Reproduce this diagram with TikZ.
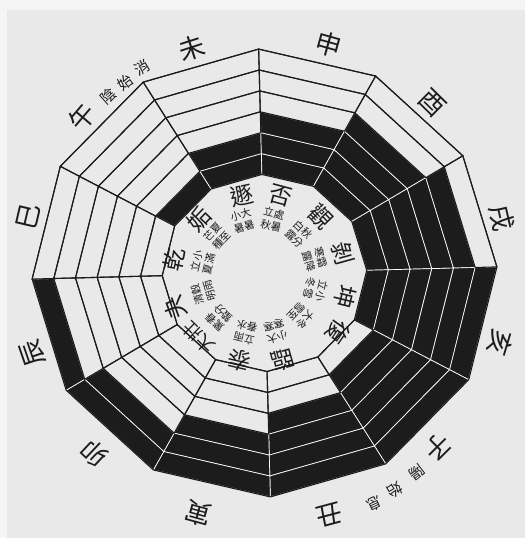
\documentclass[tikz,border=0pt]{standalone}
\usepackage{fontspec}
\newfontfamily\cjk{Noto Sans CJK TC}
\definecolor{bgc}{HTML}{E9E9E9}
\definecolor{bgw}{HTML}{F5F5F5}
\definecolor{ink}{HTML}{1C1C1C}
\begin{document}
\begin{tikzpicture}[x=1pt,y=1pt,
  blackcell/.style={fill=ink, draw=white!85!bgc, line width=0.7pt},
  whitecell/.style={draw=ink, line width=1.1pt},
  rim/.style={draw=ink, line width=1.1pt},
  branch/.style={font=\cjk\fontsize{26}{26}\selectfont, inner sep=0pt, text=ink},
  note/.style={font=\cjk\fontsize{15}{15}\selectfont, inner sep=0pt, text=ink},
  gua/.style={font=\cjk\fontsize{23}{23}\selectfont, inner sep=0pt, text=ink},
  term/.style={font=\cjk\fontsize{10.5}{12.5}\selectfont, inner sep=0pt, text=ink, align=center}]
\useasboundingbox (0,0) rectangle (525,538);
\fill[bgc] (0,0) rectangle (525,538);
\fill[bgw] (0,528) rectangle (525,538);
\fill[bgw] (0,0) rectangle (7,528);
% ---- bands ----
\begin{scope}[shift={(264.5,265)}, rotate=1.5, x=232.5pt, y=224pt]
  \def\ri{0.44}\def\bw{0.0933}
  \foreach \j in {0,...,11}{
    \pgfmathsetmacro\aa{150-30*\j}
    \pgfmathsetmacro\ab{120-30*\j}
    \foreach \i in {0,...,5}{
      \pgfmathsetmacro\rr{\ri+\i*\bw}
      \pgfmathsetmacro\rs{\ri+(\i+1)*\bw}
      \pgfmathtruncatemacro\isblack{ifthenelse(\j<6, \i<=\j, \i>=\j-5)}
      \ifnum\isblack=1
        \filldraw[blackcell] (\aa:\rr) -- (\ab:\rr) -- (\ab:\rs) -- (\aa:\rs) -- cycle;
      \fi
    }
  }
  \foreach \j in {0,...,11}{
    \pgfmathsetmacro\aa{150-30*\j}
    \pgfmathsetmacro\ab{120-30*\j}
    \foreach \i in {0,...,5}{
      \pgfmathsetmacro\rr{\ri+\i*\bw}
      \pgfmathsetmacro\rs{\ri+(\i+1)*\bw}
      \pgfmathtruncatemacro\isblack{ifthenelse(\j<6, \i<=\j, \i>=\j-5)}
      \ifnum\isblack=0
        \draw[whitecell] (\aa:\rr) -- (\ab:\rr) -- (\ab:\rs) -- (\aa:\rs) -- cycle;
      \fi
    }
  }
  \draw[rim] (0:1) \foreach \k in {1,...,11}{ -- (\k*30:1)} -- cycle;
  \draw[rim] (0:\ri) \foreach \k in {1,...,11}{ -- (\k*30:\ri)} -- cycle;
\end{scope}
% ---- earthly branches ----
\begin{scope}[shift={(264.5,265)}]
  \node[branch, rotate=17.9]   (wei)  at (107.9:236) {未};
  \node[branch, rotate=-15.6]  (shen) at (74.4:237)  {申};
  \node[branch, rotate=-44.6]  (you)  at (45.4:239)  {酉};
  \node[branch, rotate=-77]    (xu)   at (13:244)    {戌};
  \node[branch, rotate=-106.6] (hai)  at (-16.6:246) {亥};
  \node[branch, rotate=-135.2] (zi)   at (-45.2:246) {子};
  \node[note,   rotate=-142.5] (zia)  at (-52.5:251) {陽};
  \node[note,   rotate=-149]   (zib)  at (-59:253)   {始};
  \node[note,   rotate=-154.7] (zic)  at (-64.7:256) {息};
  \node[branch, rotate=-165]   (chou) at (-75:250)   {丑};
  \node[branch, rotate=164.7]  (yin)  at (254.7:250) {寅};
  \node[branch, rotate=136.7]  (mao)  at (226.7:248) {卯};
  \node[branch, rotate=109]    (chen) at (199:245)   {辰};
  \node[branch, rotate=76.7]   (si)   at (166.7:243) {巳};
  \node[branch, rotate=49.5]   (wu)   at (139.5:240) {午};
  \node[note,   rotate=41.6]   (wua)  at (131.6:236) {陰};
  \node[note,   rotate=36.3]   (wub)  at (126.3:236) {始};
  \node[note,   rotate=30.7]   (wuc)  at (120.7:239) {消};
\end{scope}
% ---- hexagram names and solar terms ----
\begin{scope}[shift={(259,262)}]
  \node[gua, rotate=46.5]  (g0)  at (136.5:82) {姤};
  \node[gua, rotate=12]    (g1)  at (102:82)   {遯};
  \node[gua, rotate=-15]   (g2)  at (75:83)    {否};
  \node[gua, rotate=-46]   (g3)  at (44:86)    {觀};
  \node[gua, rotate=-74.5] (g4)  at (15.5:87)  {剝};
  \node[gua, rotate=-103.7](g5)  at (-13.7:89) {坤};
  \node[gua, rotate=-125]  (g6)  at (-35:97)   {復};
  \node[gua, rotate=-164]  (g7)  at (-74:88)   {臨};
  \node[gua, rotate=167]   (g8)  at (257:87)   {泰};
  \node[gua, rotate=136, font=\cjk\fontsize{18}{18}\selectfont] (g9) at (226:86) {大壯};
  \node[gua, rotate=110.7] (g10) at (200.7:89) {夬};
  \node[gua, rotate=79]    (g11) at (169:86)   {乾};
  \node[term, rotate=46.5]  (t0)  at (136.5:58) {芒夏\\種至};
  \node[term, rotate=16.5]  (t1)  at (106.5:58) {小大\\暑暑};
  \node[term, rotate=-13.5] (t2)  at (76.5:58)  {立處\\秋暑};
  \node[term, rotate=-43.5] (t3)  at (46.5:58)  {白秋\\露分};
  \node[term, rotate=-73.5] (t4)  at (16.5:58)  {寒霜\\露降};
  \node[term, rotate=-103.5](t5)  at (-13.5:58) {立小\\冬雪};
  \node[term, rotate=-133.5](t6)  at (-43.5:58) {大冬\\雪至};
  \node[term, rotate=-163.5](t7)  at (-73.5:58) {小大\\寒寒};
  \node[term, rotate=166.5] (t8)  at (256.5:58) {立雨\\春水};
  \node[term, rotate=136.5] (t9)  at (226.5:58) {驚春\\蟄分};
  \node[term, rotate=106.5] (t10) at (196.5:58) {清穀\\明雨};
  \node[term, rotate=76.5]  (t11) at (166.5:58) {立小\\夏滿};
\end{scope}
\end{tikzpicture}
\end{document}
